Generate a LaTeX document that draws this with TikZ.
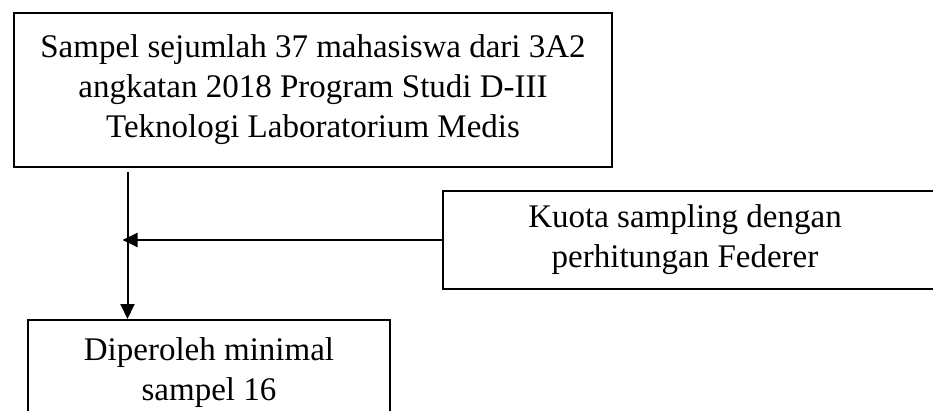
\documentclass[tikz,border=0pt]{standalone}
\usepackage{fontspec}
\setmainfont{Liberation Serif}
\usetikzlibrary{arrows.meta}
\begin{document}
\begin{tikzpicture}[x=1pt,y=-1pt,
  box/.style={draw,line width=2pt,rectangle,inner sep=0pt,align=center,
    font=\fontsize{33}{40}\selectfont},
  txt/.style={inner sep=0pt,align=center,font=\fontsize{33}{40}\selectfont},
  conn/.style={line width=2pt},
  arr/.style={conn,-{Triangle[length=15pt,width=14pt]}}]
\clip (0,0) rectangle (933,411);
\node[box,minimum width=598pt,minimum height=154pt] (top) at (313,90)
  {Sampel sejumlah 37 mahasiswa dari 3A2\\angkatan 2018 Program Studi D-III\\Teknologi Laboratorium Medis};
\node[box,minimum width=560pt,minimum height=98pt] (right) at (723,240) {};
\node[txt] (rightlabel) at (685,240) {Kuota sampling dengan\\perhitungan Federer};
\node[box,minimum width=362pt,minimum height=105pt] (bot) at (209,372.5)
  {Diperoleh minimal\\sampel 16};
\coordinate (v0) at (127.5,172);
\draw[arr] (v0) -- (v0 |- bot.north);
\draw[arr,shorten >=-5pt] (right.west) -- (right.west -| v0);
\end{tikzpicture}
\end{document}
